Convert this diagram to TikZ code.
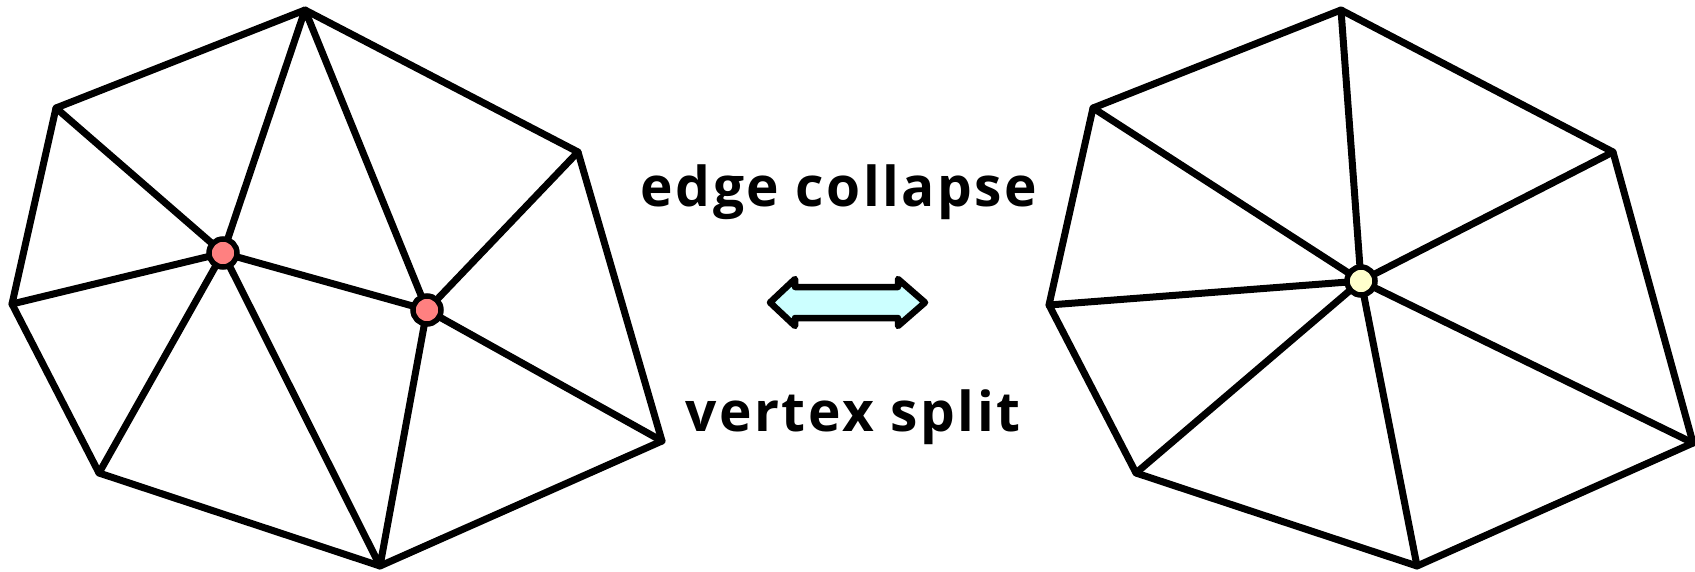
\documentclass[tikz,border=0pt]{standalone}
\usepackage{fontspec}
\setmainfont{Open Sans}
\definecolor{vred}{HTML}{FF8080}
\definecolor{vyel}{HTML}{FFFFCC}
\definecolor{acyan}{HTML}{CCFFFF}
\begin{document}
\begin{tikzpicture}[x=1pt,y=-1pt,
  edge/.style={line width=7pt, line join=round, line cap=round},
  vtx/.style={circle, draw, line width=5.5pt, minimum size=28pt, inner sep=0pt},
  label/.style={font=\fontsize{55}{66}\selectfont\bfseries\addfontfeature{LetterSpace=4.5}, anchor=base, inner sep=0pt},
  bigarrow/.style={draw, line width=6.5pt, line join=round, fill=acyan}]
\useasboundingbox (0,0) rectangle (1695,572);
% left mesh
\coordinate (T) at (305,10);
\coordinate (UL) at (56,108);
\coordinate (L) at (12,304);
\coordinate (LL) at (99,473);
\coordinate (Bo) at (380,566);
\coordinate (RD) at (662,441);
\coordinate (RU) at (578,152);
\coordinate (A) at (223,253);
\coordinate (B) at (427,310);
\draw[edge] (T) -- (UL) -- (L) -- (LL) -- (Bo) -- (RD) -- (RU) -- cycle;
\draw[edge] (A) -- (UL) (A) -- (L) (A) -- (LL) (A) -- (Bo) (A) -- (T) (A) -- (B)
  (B) -- (T) (B) -- (RU) (B) -- (RD) (B) -- (Bo);
\node[vtx, fill=vred] (nA) at (A) {};
\node[vtx, fill=vred] (nB) at (B) {};
% right mesh
\coordinate (T2) at (1341,10);
\coordinate (UL2) at (1093,108);
\coordinate (L2) at (1049,305);
\coordinate (LL2) at (1136,473);
\coordinate (Bo2) at (1417,566);
\coordinate (RD2) at (1693,443);
\coordinate (RU2) at (1613,152);
\coordinate (C) at (1361,281);
\draw[edge] (T2) -- (UL2) -- (L2) -- (LL2) -- (Bo2) -- (RD2) -- (RU2) -- cycle;
\draw[edge] (C) -- (T2) (C) -- (UL2) (C) -- (L2) (C) -- (LL2) (C) -- (Bo2) (C) -- (RD2) (C) -- (RU2);
\node[vtx, fill=vyel] (nC) at (C) {};
% labels
\node[label] (ec) at (839,207) {edge collapse};
\node[label] (vs) at (853,431) {vertex split};
% double arrow
\draw[bigarrow] (770,302.5) -- (795,279) -- (795,287) -- (898,287) -- (898,279)
  -- (925,302.5) -- (898,326) -- (898,318) -- (795,318) -- (795,326) -- cycle;
\end{tikzpicture}
\end{document}
